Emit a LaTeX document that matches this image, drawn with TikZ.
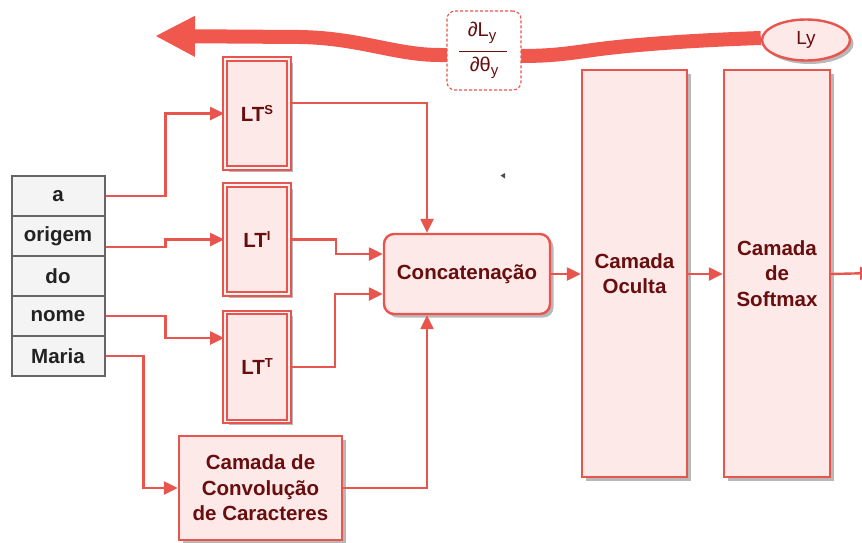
\documentclass[tikz,border=0pt]{standalone}
\usepackage{fontspec}
\setmainfont{Liberation Sans}
\usetikzlibrary{arrows.meta,shadows,shapes.geometric}

\definecolor{linered}{RGB}{232,84,78}
\definecolor{flowred}{RGB}{240,88,78}
\definecolor{boxfill}{RGB}{253,233,232}
\definecolor{textred}{RGB}{104,14,14}
\definecolor{cellfill}{RGB}{244,244,244}
\definecolor{cellline}{RGB}{102,102,102}
\definecolor{celltext}{RGB}{34,34,34}

% small superscript / subscript helpers
\newcommand\supl[1]{\raisebox{7pt}{\fontsize{13}{13}\selectfont #1}}
\newcommand\subl[1]{\raisebox{-4pt}{\fontsize{15}{15}\selectfont #1}}

\tikzset{
  bigfont/.style={font=\fontsize{20.5}{25.5}\selectfont\bfseries},
  boxshadow/.style={drop shadow={shadow xshift=3.5pt, shadow yshift=-3.5pt, fill=black!28, opacity=1}},
  cell/.style={draw=cellline, fill=cellfill, line width=2pt, minimum width=93pt,
    minimum height=40pt, inner sep=0pt, text=celltext, bigfont},
  block/.style={draw=linered, fill=boxfill, line width=2.4pt, inner sep=0pt,
    text=textred, bigfont, align=center, boxshadow},
  ltbox/.style={block, line width=1.9pt, double=white!45!boxfill, double distance=1.5pt,
    minimum width=64pt, minimum height=109pt},
  lossnode/.style={ellipse, draw=linered, fill=boxfill, line width=2.4pt, minimum width=88pt,
    minimum height=41pt, inner sep=0pt, text=textred, font=\fontsize{19}{19}\selectfont, boxshadow},
  gradbox/.style={draw=linered, dash pattern=on 3pt off 2pt, line width=1.1pt, fill=white,
    rounded corners=8pt, minimum width=74pt, minimum height=79pt, inner sep=0pt},
  gradtext/.style={text=textred, font=\fontsize{20}{20}\selectfont, inner sep=0pt, anchor=base},
  conn/.style={draw=linered, line width=2.4pt, -{Triangle[length=14pt,width=13pt]}},
  flow/.style={draw=flowred, line width=14pt, -{Triangle[length=40pt,width=38pt]}}
}

\begin{document}
\begin{tikzpicture}[x=1pt,y=-1pt]
\useasboundingbox (0,0) rectangle (862,542);

% input words
\node[cell] (a)      at (58,196) {a};
\node[cell] (origem) at (58,236) {origem};
\node[cell] (do)     at (58,276) {do};
\node[cell] (nome)   at (58,316) {nome};
\node[cell] (maria)  at (58,356) {Maria};

% lookup tables
\node[ltbox] (lts) at (257,113.5) {LT\supl{S}};
\node[ltbox] (lti) at (257,239.5) {LT\supl{I}};
\node[ltbox] (ltt) at (257,367)   {LT\supl{T}};

% processing blocks
\node[block, minimum width=163pt, minimum height=104pt] (conv) at (260.5,488)
  {Camada de\\Convolução\\de Caracteres};
\node[block, rounded corners=10pt, minimum width=166pt, minimum height=80pt] (concat) at (467,274)
  {Concatenação};
\node[block, minimum width=105pt, minimum height=407pt] (oculta) at (634.5,273.5)
  {Camada\\Oculta};
\node[block, minimum width=106pt, minimum height=407pt] (softmax) at (777,273.5)
  {Camada\\de\\Softmax};
\coordinate (out) at (874,273);

% backward gradient flow
\node[lossnode] (loss) at (806,40) {Ly};
\coordinate (flowend) at (155,36);
\draw[flow] ([yshift=2pt]loss.west)
  .. controls (700,40) and (640,44) .. (600,49)
  .. controls (570,53) and (555,56) .. (520,56)
  -- (440,55)
  .. controls (395,55) and (360,38) .. (300,37)
  -- (flowend);
\node[gradbox] (grad) at (484,50.5) {};
\node[gradtext] (gradnum) at (482,36.5) {∂L\subl{y}};
\node[gradtext] (gradden) at (484,71.5) {∂θ\subl{y}};
\draw[draw=textred, line width=1pt] (459,51) -- (507,51);

% connectors
\draw[conn] (a.east) -- ++(60,0) |- (lts.west);
\draw[conn] ([yshift=-11pt]origem.east) -- ++(60,0) |- (lti.west);
\draw[conn] (nome.east) -- ++(60,0) |- ([yshift=29pt]ltt.west);
\draw[conn] (maria.east) -- ++(38,0) |- (conv.west);
\draw[conn] ([yshift=10.5pt]lts.east) -| ([xshift=-40pt]concat.north);
\draw[conn] (lti.east) -- ++(46,0) |- ([yshift=20pt]concat.west);
\draw[conn] (ltt.east) -- ++(45,0) |- ([yshift=-20pt]concat.west);
\draw[conn] (conv.east) -| ([xshift=-40pt]concat.south);
\draw[conn] (concat.east) -- (concat.east -| oculta.west);
\draw[conn] (concat.east -| oculta.east) -- (concat.east -| softmax.west);
\draw[conn] (concat.east -| softmax.east) -- (out);

% small cursor mark
\fill[black!70] (500.5,175.5) -- (505,173) -- (505,178.5) -- cycle;
\end{tikzpicture}
\end{document}
